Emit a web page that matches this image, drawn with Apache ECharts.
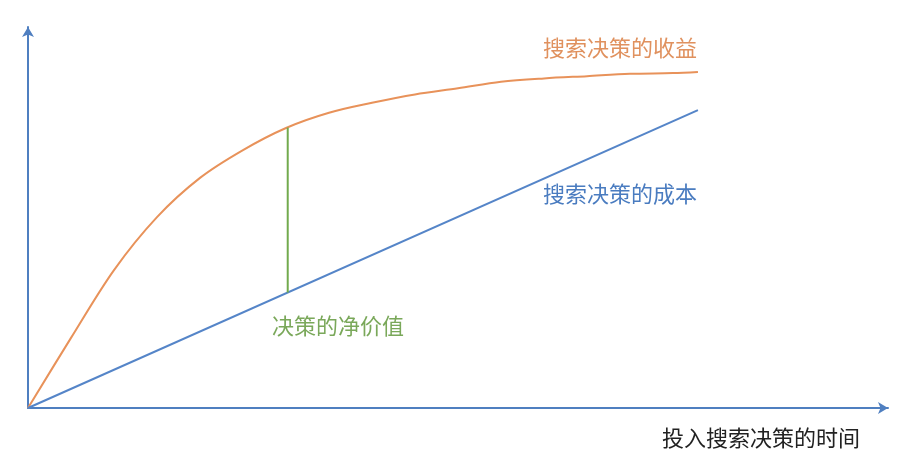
<!DOCTYPE html>
<html>
<head>
<meta charset="utf-8">
<script src="https://cdn.jsdelivr.net/npm/echarts@6/dist/echarts.min.js"></script>
<style>html,body{margin:0;padding:0;background:#fff;}#c{width:914px;height:471px;}</style>
</head>
<body>
<div id="c"></div>
<script>
// Benefit curve of search decision (x: time invested, y: value)
const benefitX = [0, 5, 10, 15, 20, 25, 30, 35, 40, 45, 50, 55, 60, 65, 70, 75, 77.9];
const benefitY = [0, 18.4, 36.2, 50.1, 60.4, 67.7, 73.5, 77.5, 80.1, 82.3, 83.9, 85.6, 86.5, 87.1, 87.7, 87.9, 88.2];
// Cost line of search decision
const costX = [0, 77.9];
const costY = [0, 78.2];
// Net value segment
const netX = [30.2, 30.2];
const netY = [30.3, 73.6];
const labels = {
  benefit: '搜索决策的收益',
  cost: '搜索决策的成本',
  net: '决策的净价值',
  xName: '投入搜索决策的时间'
};

const zip = (xs, ys) => xs.map((x, i) => [x, ys[i]]);
const font = '"Noto Sans CJK SC", "Noto Sans", sans-serif';
const axisColor = '#4f7fc0';

const chart = echarts.init(document.getElementById('c'));
chart.setOption({
  animation: false,
  grid: { left: 28, right: 26, top: 27, bottom: 63 },
  xAxis: {
    type: 'value', min: 0, max: 100,
    axisLine: { show: true, onZero: false, symbol: ['none', 'arrow'], symbolSize: [9, 10], lineStyle: { color: axisColor, width: 2 } },
    axisTick: { show: false }, axisLabel: { show: false }, splitLine: { show: false }
  },
  yAxis: {
    type: 'value', min: 0, max: 100,
    axisLine: { show: true, onZero: false, symbol: ['none', 'arrow'], symbolSize: [9, 10], lineStyle: { color: axisColor, width: 2 } },
    axisTick: { show: false }, axisLabel: { show: false }, splitLine: { show: false }
  },
  series: [
    { type: 'line', data: zip(benefitX, benefitY), smooth: 0.33, showSymbol: false,
      lineStyle: { color: '#e8925a', width: 2 } },
    { type: 'line', data: zip(costX, costY), showSymbol: false,
      lineStyle: { color: '#5585c8', width: 2 } },
    { type: 'line', data: zip(netX, netY), showSymbol: false,
      lineStyle: { color: '#72aa4e', width: 2 } }
  ],
  graphic: [
    { type: 'text', left: 543, top: 37, style: { text: labels.benefit, fill: '#e0915e', font: '22px ' + font } },
    { type: 'text', left: 543, top: 183, style: { text: labels.cost, fill: '#4a7cc0', font: '22px ' + font } },
    { type: 'text', left: 272, top: 315, style: { text: labels.net, fill: '#7aa85a', font: '22px ' + font } },
    { type: 'text', left: 662, top: 427, style: { text: labels.xName, fill: '#222', font: '22px ' + font } }
  ]
});
</script>
</body>
</html>
